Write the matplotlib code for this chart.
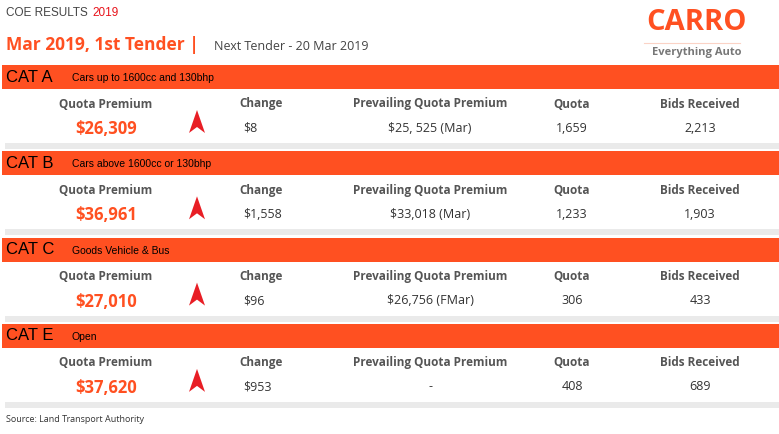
import matplotlib.pyplot as plt
from matplotlib.patches import Rectangle, Polygon

cats = ["CAT A", "CAT B", "CAT C", "CAT E"]
descs = ["Cars up to 1600cc and 130bhp", "Cars above 1600cc or 130bhp",
         "Goods Vehicle & Bus", "Open"]
premiums = ["$26,309", "$36,961", "$27,010", "$37,620"]
changes = ["$8", "$1,558", "$96", "$953"]
prevailing = ["$25, 525 (Mar)", "$33,018 (Mar)", "$26,756 (FMar)", "-"]
quotas = ["1,659", "1,233", "306", "408"]
bids = ["2,213", "1,903", "433", "689"]

ORANGE = "#ff5021"
GREY = "#555555"
W, H = 779, 434

fig = plt.figure(figsize=(W / 100, H / 100), dpi=100)
ax = fig.add_axes([0, 0, 1, 1])
ax.set_xlim(0, W)
ax.set_ylim(H, 0)
ax.axis("off")

ax.text(6, 13, "COE RESULTS", fontsize=8.5, color="#444444", va="center", family="Liberation Sans")
ax.text(92, 13, "2019", fontsize=8.5, color="#e8131b", va="center", family="Liberation Sans")
ax.text(6, 45, "Mar 2019, 1st Tender |", fontsize=12.5, color=ORANGE, weight="bold", va="center", family="Open Sans")
ax.text(214, 46, "Next Tender - 20 Mar 2019", fontsize=9, color="#444444", va="center", family="Open Sans")
ax.text(697, 22, "CARRO", fontsize=21, color=ORANGE, weight="bold", ha="center", va="center", family="Open Sans")
ax.plot([644, 740], [43, 43], color="#fbd3c6", lw=0.8)
ax.text(697, 53, "Everything Auto", fontsize=8, color="#777777", weight="bold", ha="center", va="center", family="Open Sans")

cols = [106, 261, 430, 572, 700]
heads = ["Quota Premium", "Change", "Prevailing Quota Premium", "Quota", "Bids Received"]
step = 86.3
for i, cat in enumerate(cats):
    y0 = 65 + i * step
    ax.add_patch(Rectangle((2, y0), W - 2, 24, color=ORANGE, lw=0))
    ax.text(6, y0 + 12, cat, fontsize=12, color="black", va="center", family="Liberation Sans")
    ax.text(72, y0 + 13, descs[i], fontsize=7.5, color="black", va="center", family="Liberation Sans")
    for x, h in zip(cols, heads):
        ax.text(x, y0 + 39, h, fontsize=8.5, color=GREY, weight="bold", ha="center", va="center", family="Open Sans")
    ax.text(106, y0 + 64, premiums[i], fontsize=12, color=ORANGE, weight="bold", ha="center", va="center", family="Open Sans")
    ax.text(243, y0 + 63, changes[i], fontsize=9, color="#333333", va="center", family="Open Sans")
    for x, v in zip(cols[2:], [prevailing[i], quotas[i], bids[i]]):
        ax.text(x, y0 + 63, v, fontsize=9, color="#333333", ha="center", va="center", family="Open Sans")
    ax.add_patch(Polygon([(197, y0 + 45), (189, y0 + 68), (197, y0 + 62), (205, y0 + 68)],
                         closed=True, color="#e81e25", lw=0))
    ax.add_patch(Rectangle((5, y0 + 78), W - 5, 6, color="#eaeaea", lw=0))

ax.text(6, 419, "Source: Land Transport Authority", fontsize=6.5, color="#333333", va="center", family="Open Sans")

fig.savefig("out.png", dpi=100)
